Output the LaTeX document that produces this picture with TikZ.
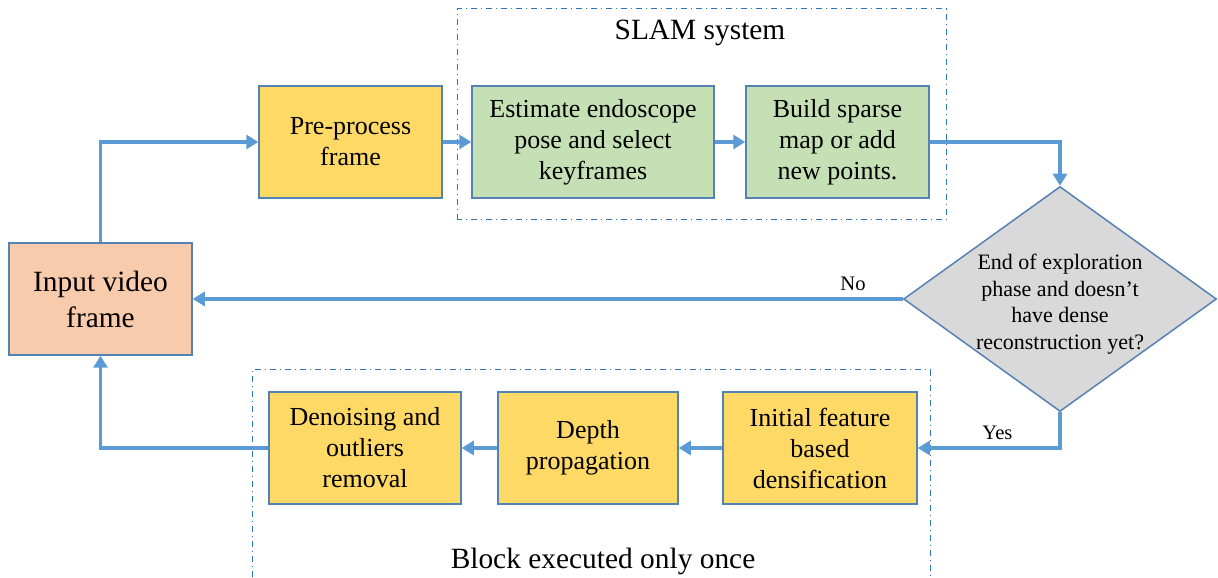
\documentclass[tikz,border=0pt]{standalone}
\usepackage{fontspec}
\setmainfont{Liberation Serif}
\usetikzlibrary{shapes.geometric,arrows.meta}
\definecolor{flowblue}{RGB}{91,155,213}
\definecolor{edgeblue}{RGB}{84,130,180}
\definecolor{frameblue}{RGB}{46,117,182}
\definecolor{salmon}{RGB}{248,203,173}
\definecolor{gold}{RGB}{255,217,102}
\definecolor{sage}{RGB}{197,224,180}
\definecolor{lightgray}{RGB}{217,217,217}

\begin{document}
\begin{tikzpicture}[line join=miter,
        stagebox/.style={shape=rectangle, draw=edgeblue, line width=0.75pt, align=center,
                         minimum height=56pt, inner sep=2pt, font=\fontsize{13}{15.5}\selectfont},
        yellowbox/.style={stagebox, fill=gold},
        greenbox/.style={stagebox, fill=sage},
        inputbox/.style={stagebox, fill=salmon, font=\fontsize{14.7}{18}\selectfont},
        decision/.style={shape=diamond, draw=edgeblue, line width=0.75pt, fill=lightgray, inner sep=0pt},
        flow/.style={draw=flowblue, line width=1.75pt, -{Triangle[length=6pt,width=7pt]}},
        groupframe/.style={draw=frameblue, line width=0.5pt, dash dot},
        smalltext/.style={font=\fontsize{10.3}{12}\selectfont}]
        \useasboundingbox (0pt, 0pt) rectangle (609pt, 288.5pt);
        % Group frames
        \draw[groupframe] (228.5pt, 178.5pt) rectangle (473pt, 284pt);
        \draw[groupframe] (126pt, 0pt) -- (126pt, 103.5pt) -- (465pt, 103.5pt) -- (465pt, 0pt);
        \node[font=\fontsize{14.7}{18}\selectfont] (slamlabel) at (350pt, 272pt) {SLAM system};
        \node[font=\fontsize{14.7}{18}\selectfont, anchor=base] (oncelabel) at (301.5pt, 4.5pt) {Block executed only once};
        % Boxes
        \node[inputbox, minimum width=91.5pt] (input) at (50.25pt, 139pt) {Input video\\frame};
        \node[yellowbox, minimum width=91.5pt] (preproc) at (175.25pt, 217.5pt) {Pre-process\\frame};
        \node[greenbox, minimum width=121pt] (estimate) at (296.5pt, 217.5pt) {Estimate endoscope\\pose and select\\keyframes};
        \node[greenbox, minimum width=91.5pt] (build) at (418.75pt, 217.5pt) {Build sparse\\map or add\\new points.};
        \node[decision, minimum width=156.5pt, minimum height=112.5pt,
              label={[align=center, yshift=-2.5pt, font=\fontsize{11}{13.3}\selectfont]center:End of exploration\\phase and doesn’t\\have dense\\reconstruction yet?}] (dec) at (530pt, 139pt) {};
        \node[yellowbox, minimum width=97pt] (initial) at (410pt, 64.5pt) {Initial feature\\based\\densification};
        \node[yellowbox, minimum width=90pt] (depth) at (294pt, 64.5pt) {Depth\\propagation};
        \node[yellowbox, minimum width=96pt] (denoise) at (182.5pt, 64.5pt) {Denoising and\\outliers\\removal};
        % Arrows
        \draw[flow] (input.north) |- (preproc.west);
        \foreach \a/\b in {preproc/estimate, estimate/build, initial/depth, depth/denoise} {
          \draw[flow] (\a) -- (\b);
        }
        \draw[flow] (build.east) -| (dec.north);
        \draw[flow] (dec.west) -- (input.east) node[pos=0.07, above, smalltext] {No};
        \draw[flow] (dec.south) |- (initial.east) node[pos=0.72, above, smalltext] {Yes};
        \draw[flow] (denoise.west) -| (input.south);
\end{tikzpicture}
\end{document}
